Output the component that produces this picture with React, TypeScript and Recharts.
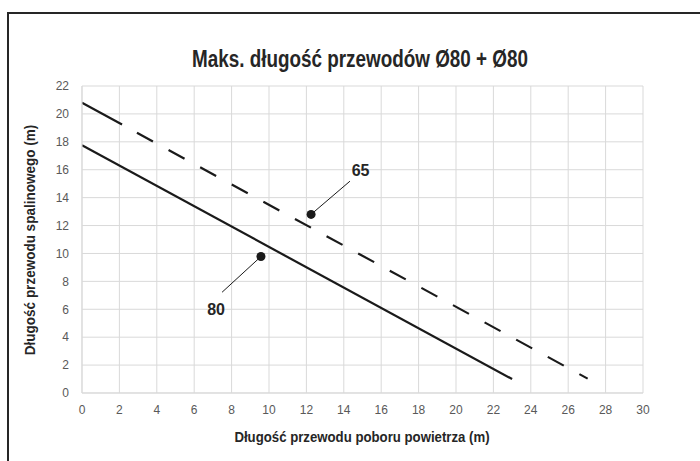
import React from "react";
import {
  ComposedChart,
  Line,
  XAxis,
  YAxis,
  CartesianGrid,
  Scatter,
  ReferenceLine,
  ReferenceDot,
} from "recharts";

const TITLE = "Maks. długość przewodów Ø80 + Ø80";
const X_LABEL = "Długość przewodu poboru powietrza (m)";
const Y_LABEL = "Długość przewodu spalinowego (m)";

const xTicks = [0, 2, 4, 6, 8, 10, 12, 14, 16, 18, 20, 22, 24, 26, 28, 30];
const yTicks = [0, 2, 4, 6, 8, 10, 12, 14, 16, 18, 20, 22];

// line "80" (solid)
const line80 = [
  { x: 0, y: 17.75 },
  { x: 23, y: 1 },
];
// line "65" (dashed)
const line65 = [
  { x: 0, y: 20.8 },
  { x: 27.04, y: 1.03 },
];

// marker points
const points = [
  { x: 9.57, y: 9.78, name: "80" },
  { x: 12.25, y: 12.8, name: "65" },
];

// label anchors and leader ends
const labels = [
  { name: "80", lx: 7.17, ly: 6.0, ex: 7.49, ey: 7.22, px: 9.57, py: 9.78 },
  { name: "65", lx: 14.9, ly: 15.95, ex: 14.33, ey: 15.18, px: 12.25, py: 12.8 },
];

const SANS = "'Liberation Sans', Arial, sans-serif";

// Excel-like long dash pattern: first long dash, then regular dashes
const dashPattern = ["45.6", "17"]
  .concat(Array.from({ length: 24 }, () => ["18.2", "17.8"]).flat())
  .join(" ");

export default function App() {
  return (
    <div
      style={{
        position: "absolute",
        left: 0,
        top: 0,
        width: 700,
        height: 461,
        background: "#fff",
        overflow: "hidden",
      }}
    >
      <div
        style={{
          position: "absolute",
          left: 7,
          top: 12,
          width: 720,
          height: 480,
          borderLeft: "2px solid #262626",
          borderTop: "2px solid #262626",
        }}
      />
      <div style={{ position: "absolute", left: 0, top: 0 }}>
        <ComposedChart
          width={700}
          height={461}
          margin={{ top: 86, right: 57, bottom: 38, left: 42 }}
        >
          <CartesianGrid stroke="#d9d9d9" strokeWidth={1} />
          <XAxis
            type="number"
            dataKey="x"
            domain={[0, 30]}
            ticks={xTicks}
            interval={0}
            allowDataOverflow
            height={30}
            tickLine={false}
            axisLine={{ stroke: "#d9d9d9" }}
            tickMargin={6}
            tick={{ fill: "#595959", fontSize: 12, fontFamily: SANS }}
          />
          <YAxis
            type="number"
            dataKey="y"
            domain={[0, 22]}
            ticks={yTicks}
            interval={0}
            allowDataOverflow
            width={40}
            tickLine={false}
            axisLine={{ stroke: "#d9d9d9" }}
            tickMargin={7}
            tick={{ fill: "#595959", fontSize: 12, fontFamily: SANS }}
          />
          <Line
            data={line80}
            dataKey="y"
            type="linear"
            stroke="#1a1a1a"
            strokeWidth={2.2}
            dot={false}
            activeDot={false}
            isAnimationActive={false}
          />
          <Line
            data={line65}
            dataKey="y"
            type="linear"
            stroke="#1a1a1a"
            strokeWidth={2.2}
            strokeDasharray={dashPattern}
            dot={false}
            activeDot={false}
            isAnimationActive={false}
          />
          {labels.map((l) => (
            <ReferenceLine
              key={"leader" + l.name}
              segment={[
                { x: l.px, y: l.py },
                { x: l.ex, y: l.ey },
              ]}
              stroke="#1a1a1a"
              strokeWidth={1}
            />
          ))}
          <Scatter
            data={points}
            dataKey="y"
            fill="#1a1a1a"
            isAnimationActive={false}
            shape={(p: any) => <circle cx={p.cx} cy={p.cy} r={4.5} fill="#1a1a1a" />}
          />
          {labels.map((l) => (
            <ReferenceDot
              key={"label" + l.name}
              x={l.lx}
              y={l.ly}
              r={0}
              fill="none"
              stroke="none"
              label={{
                value: l.name,
                position: "center",
                style: {
                  fontFamily: SANS,
                  fontWeight: "bold",
                  fontSize: 16,
                  fill: "#262626",
                },
              }}
            />
          ))}
        </ComposedChart>
      </div>
      <div
        style={{
          position: "absolute",
          left: 60,
          width: 600,
          top: 45,
          textAlign: "center",
          fontFamily: SANS,
          fontWeight: "bold",
          fontSize: 23,
          color: "#262626",
          lineHeight: "28px",
          whiteSpace: "nowrap",
          transform: "scaleX(0.82)",
        }}
      >
        {TITLE}
      </div>
      <div
        style={{
          position: "absolute",
          left: 162,
          width: 400,
          top: 427,
          textAlign: "center",
          fontFamily: SANS,
          fontWeight: "bold",
          fontSize: 15,
          color: "#262626",
          lineHeight: "20px",
          whiteSpace: "nowrap",
          transform: "scaleX(0.88)",
        }}
      >
        {X_LABEL}
      </div>
      <div
        style={{
          position: "absolute",
          left: 30 - 200,
          width: 400,
          top: 240 - 10,
          textAlign: "center",
          fontFamily: SANS,
          fontWeight: "bold",
          fontSize: 15,
          color: "#262626",
          lineHeight: "20px",
          whiteSpace: "nowrap",
          transform: "rotate(-90deg) scaleX(0.9)",
        }}
      >
        {Y_LABEL}
      </div>
    </div>
  );
}
